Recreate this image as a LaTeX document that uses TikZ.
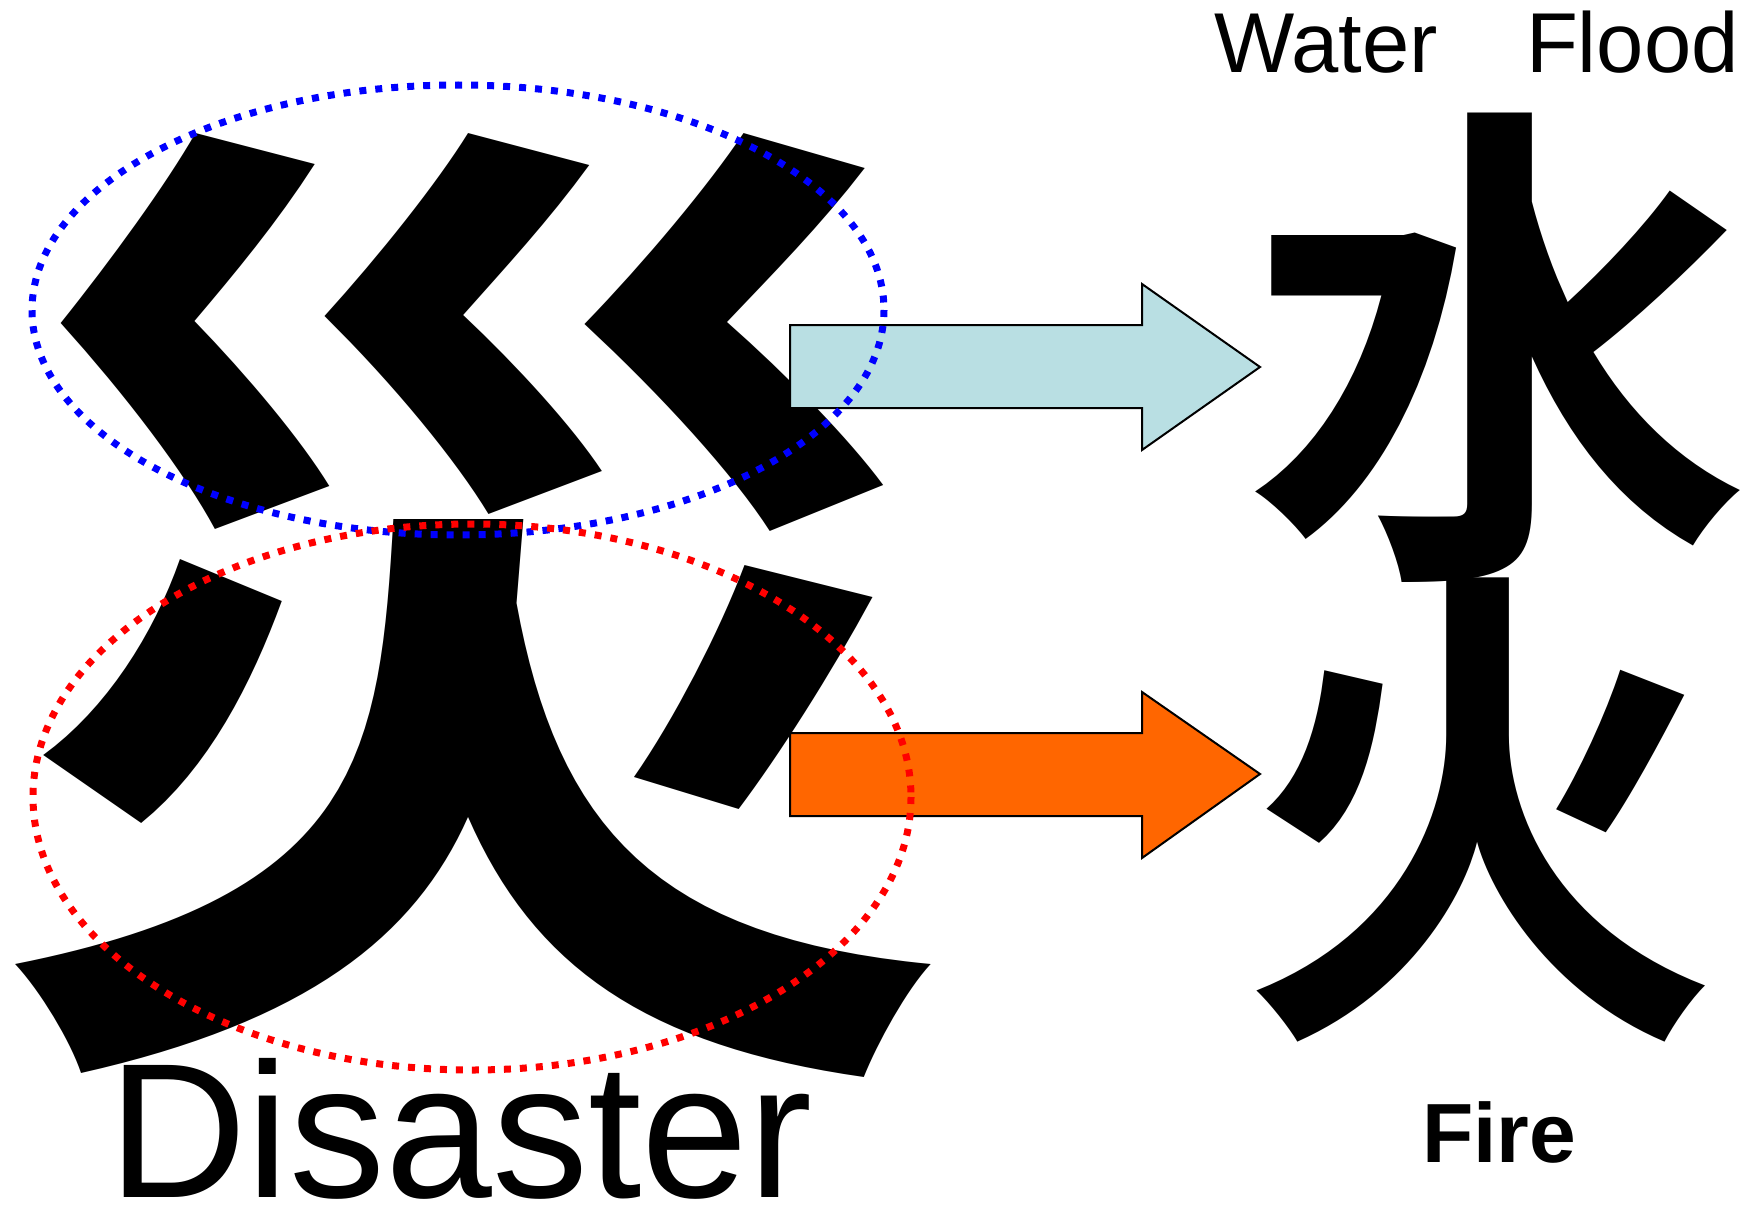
\documentclass[tikz,border=0pt]{standalone}
\usepackage{fontspec}
\setmainfont{Liberation Sans}
\newfontfamily\cjk{Noto Sans CJK JP}[BoldFont={Noto Sans CJK JP Bold}]
\definecolor{arrowblue}{HTML}{B9DFE3}
\definecolor{arroworange}{HTML}{FF6600}
\begin{document}
\begin{tikzpicture}[x=1pt,y=-1pt,
  glyph/.style={inner sep=0pt,outer sep=0pt,text=black},
  label/.style={inner sep=0pt,outer sep=0pt,anchor=base west},
  blockarrow/.style={draw=black,line width=2pt,line join=miter},
  ring/.style={line width=7pt,dash pattern=on 7pt off 9pt}]
\useasboundingbox[fill=white] (0,0) rectangle (1747,1204);
% main glyph
\node[glyph,xscale=0.97,font=\cjk\bfseries\fontsize{1000}{1000}\selectfont] (zai) at (470,605) {災};
\node[glyph,xscale=1.01,font=\cjk\bfseries\fontsize{500}{500}\selectfont] (mizu) at (1498,348) {水};
\node[glyph,xscale=0.96,font=\cjk\bfseries\fontsize{502}{502}\selectfont] (hi) at (1480,810) {火};
% block arrows
\filldraw[blockarrow,fill=arrowblue] (790,325) -- (1142,325) -- (1142,284) -- (1260,367) -- (1142,450) -- (1142,408) -- (790,408) -- cycle;
\filldraw[blockarrow,fill=arroworange] (790,733) -- (1142,733) -- (1142,692) -- (1260,774) -- (1142,858) -- (1142,816) -- (790,816) -- cycle;
% dotted ellipses
\draw[ring,color=blue] (458,310) ellipse [x radius=426,y radius=225];
\draw[ring,color=red] (472,797) ellipse [x radius=439,y radius=273];
% labels
\node[label,font=\fontsize{85}{85}\selectfont] (water) at (1214,73) {Water};
\node[label,font=\fontsize{85}{85}\selectfont] (flood) at (1526,73) {Flood};
\node[label,font=\fontsize{192}{192}\selectfont] (disaster) at (108,1197) {Disaster};
\node[label,font=\bfseries\fontsize{84}{84}\selectfont] (fire) at (1422,1162) {Fire};
\end{tikzpicture}
\end{document}
